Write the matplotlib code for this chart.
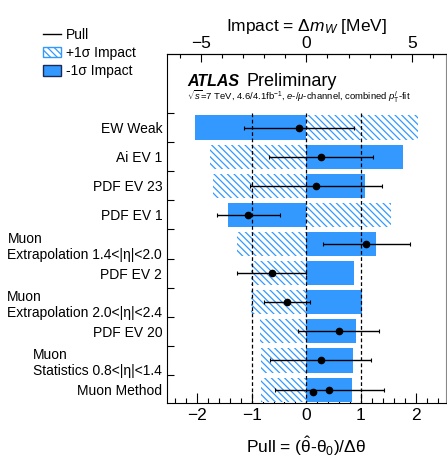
import numpy as np
import matplotlib
matplotlib.use("Agg")
import matplotlib.pyplot as plt
from matplotlib.patches import Patch
from matplotlib.lines import Line2D

plt.rcParams['font.family'] = ['Liberation Sans', 'DejaVu Sans']
plt.rcParams['mathtext.fontset'] = 'custom'
plt.rcParams['mathtext.rm'] = 'Liberation Sans'
plt.rcParams['mathtext.it'] = 'Liberation Sans:italic'
plt.rcParams['mathtext.bf'] = 'Liberation Sans:bold'
plt.rcParams['hatch.linewidth'] = 0.9

# rows, top to bottom
labels = ["EW Weak", "Ai EV 1", "PDF EV 23", "PDF EV 1",
          "Muon\nExtrapolation 1.4<|η|<2.0", "PDF EV 2",
          "Muon\nExtrapolation 2.0<|η|<2.4", "PDF EV 20",
          "Muon\nStatistics 0.8<|η|<1.4", "Muon Method"]
# impact on m_W in MeV
impact_plus = [5.29, -4.55, -4.44, 3.99, -3.31, -2.61, -2.61, -2.19, -2.14, -2.14]
impact_minus = [-5.26, 4.57, 2.76, -3.69, 3.29, 2.25, 2.62, 2.35, 2.19, 2.17]
# pulls and constraints
pull = [-0.14, 0.27, 0.18, -1.06, 1.10, -0.63, -0.35, 0.59, 0.26, 0.42]
pull_err = [1.01, 0.95, 1.21, 0.58, 0.80, 0.63, 0.42, 0.74, 0.93, 1.00]
extra_pull = [0.12]
extra_row = [9.07]

mev_per_unit = 2.59
blue = "#3399ff"
hatch = "\\\\\\\\\\"

fig = plt.figure(figsize=(4.47, 4.59), dpi=100)
ax = fig.add_axes([0.3736, 0.122, 0.6235, 0.760])

n = len(labels)
ypos = np.arange(n)  # 0 = top row
y_bottom, y_top = 9.46, -2.52

ax.barh(ypos, np.array(impact_minus) / mev_per_unit, height=0.83,
        color=blue, edgecolor="none", zorder=2)
ax.barh(ypos, np.array(impact_plus) / mev_per_unit, height=0.83,
        color="white", edgecolor=blue, hatch=hatch, linewidth=0, zorder=2)

for xv in [-1, 0, 1]:
    ax.plot([xv, xv], [-0.5, y_bottom], color="black", ls=(0, (3, 2)), lw=0.9, zorder=3)

ax.errorbar(pull, ypos, xerr=pull_err, fmt="o", color="black", ms=4.5,
            elinewidth=1.0, capsize=1.5, capthick=0.8, zorder=4)
ax.plot(extra_pull, extra_row, "o", color="black", ms=4.5, zorder=4)

ax.set_xlim(-2.55, 2.55)
ax.set_ylim(y_bottom, y_top)
ax.set_yticks(ypos)
ax.set_yticklabels(labels, fontsize=10, multialignment="left")
ax.set_yticks(np.arange(-0.5, n - 0.5, 1.0), minor=True)
ax.tick_params(axis="y", which="major", length=0, pad=3.5)
ax.tick_params(axis="y", which="minor", direction="in", length=5, width=0.8)
ax.set_xticks([-2, -1, 0, 1, 2])
ax.set_xticks(np.arange(-2.4, 2.5, 0.2), minor=True)
ax.tick_params(axis="x", which="major", direction="in", length=7, width=0.8,
               labelsize=12.5, top=False)
ax.tick_params(axis="x", which="minor", direction="in", length=3.5, width=0.8, top=False)
ax.set_xlabel(r"Pull = ($\hat{\mathrm{\theta}}$-$\mathrm{\theta}_0$)/$\Delta\mathrm{\theta}$",
              fontsize=12.5, labelpad=8)
ax.spines["right"].set_color("#888888")

sec = ax.secondary_xaxis("top", functions=(lambda x: x * mev_per_unit,
                                           lambda x: x / mev_per_unit))
sec.set_xticks([-5, 0, 5])
sec.set_xticks(np.arange(-6, 7, 1), minor=True)
sec.tick_params(which="major", direction="in", length=6, width=0.8, labelsize=12.5, pad=2)
sec.tick_params(which="minor", direction="in", length=3, width=0.8)
sec.set_xlabel(r"Impact = $\Delta m_W$ [MeV]", fontsize=12.5, labelpad=4)

ax.text(0.072, 0.908, "ATLAS", transform=ax.transAxes,
        fontsize=11.5, fontweight="bold", style="italic", va="baseline")
ax.text(0.285, 0.908, "Preliminary", transform=ax.transAxes, fontsize=13, va="baseline")
ax.text(0.07, 0.866, r"$\sqrt{s}$=7 TeV, 4.6/4.1fb$^{-1}$, $e$-/$\mu$-channel, combined $p_{\mathrm{T}}^{l}$-fit",
        transform=ax.transAxes, fontsize=6.8, va="baseline")

handles = [Line2D([], [], color="black", lw=1.0),
           Patch(facecolor="white", edgecolor=blue, hatch=hatch, linewidth=1),
           Patch(facecolor=blue, edgecolor="#1a2a5a", linewidth=1)]
fig.legend(handles, ["Pull", "+1σ Impact", "-1σ Impact"], loc="upper left",
           bbox_to_anchor=(0.0955, 0.939), frameon=False, fontsize=10,
           handlelength=1.3, handleheight=0.75, handletextpad=0.4, labelspacing=0.3,
           borderaxespad=0, borderpad=0)

fig.savefig("out.png", dpi=100)
